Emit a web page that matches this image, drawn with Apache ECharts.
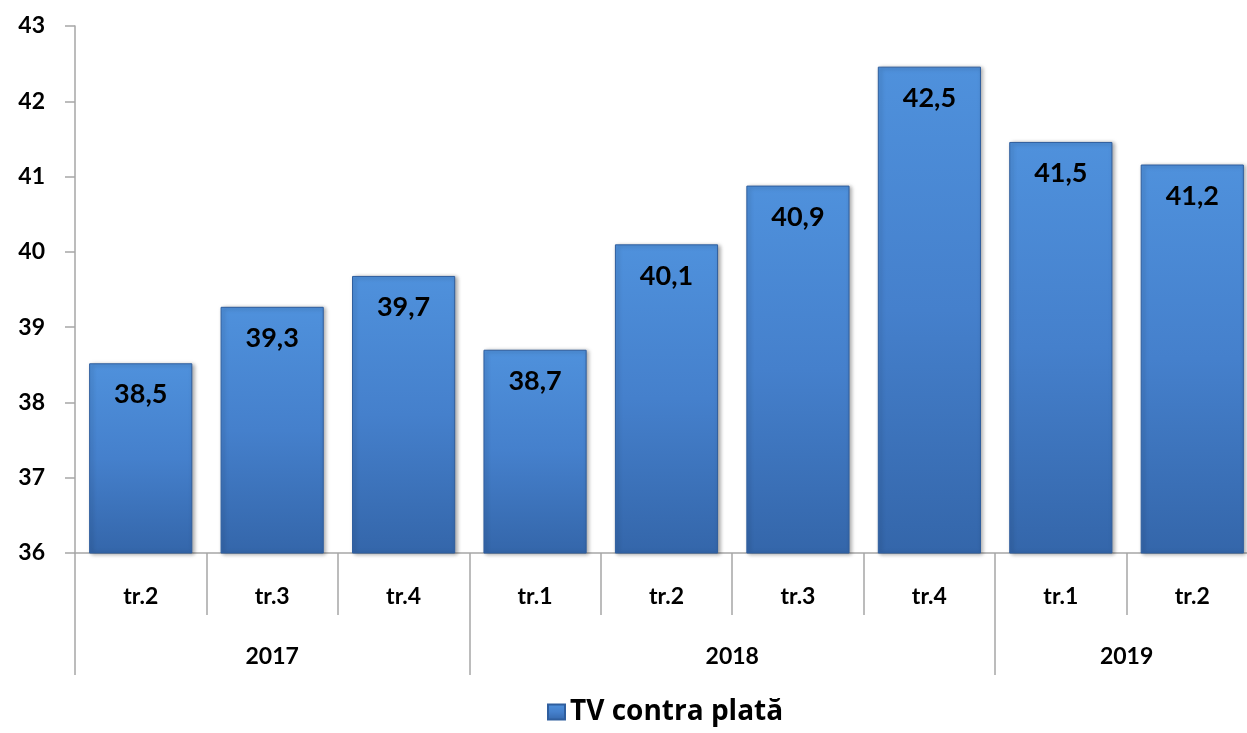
<!DOCTYPE html>
<html>
<head>
<meta charset="utf-8">
<script src="https://cdn.jsdelivr.net/npm/echarts@6/dist/echarts.min.js"></script>
<style>
  html, body { margin: 0; padding: 0; background: #fff; }
  #chart { width: 1247px; height: 733px; }
</style>
</head>
<body>
<div id="chart"></div>
<script>
// date
var quarters = ['tr.2', 'tr.3', 'tr.4', 'tr.1', 'tr.2', 'tr.3', 'tr.4', 'tr.1', 'tr.2'];
var values = [38.52, 39.27, 39.68, 38.70, 40.10, 40.88, 42.46, 41.46, 41.16];
var years = ['2017', '2018', '2019'];
var yearSpans = [3, 4, 2];
var seriesName = 'TV contra plată';

// limitele si centrele grupelor de ani (in unitati de categorie)
var yearBounds = [0];
var yearCenters = [];
yearSpans.forEach(function (n, i) {
    yearCenters.push(yearBounds[i] + n / 2);
    yearBounds.push(yearBounds[i] + n);
});

var font = 'Lato, "Open Sans", sans-serif';
var axisGray = '#a6a6a6';

var barColor = new echarts.graphic.LinearGradient(0, 0, 0, 1, [
    { offset: 0, color: '#4f91dc' },
    { offset: 0.5, color: '#4580cc' },
    { offset: 1, color: '#3466aa' }
]);

var myChart = echarts.init(document.getElementById('chart'));

var option = {
    animation: false,
    textStyle: { fontFamily: font },
    // zona graficului iese putin din dreapta, ca in original
    grid: { left: 75, right: -11, top: 26, bottom: 180, containLabel: false, outerBoundsMode: 'none' },
    legend: {
        data: [seriesName],
        bottom: 2,
        left: 542,
        itemWidth: 17,
        itemHeight: 15,
        itemGap: 6,
        icon: 'rect',
        textStyle: { fontSize: 28, fontWeight: 'bold', color: '#000', fontFamily: '"Open Sans", sans-serif' }
    },
    xAxis: [{
        type: 'category',
        data: quarters,
        position: 'bottom',
        axisLine: { lineStyle: { color: axisGray, width: 1.5 } },
        axisTick: { show: true, interval: 0, length: 62, lineStyle: { color: axisGray, width: 1.5 } },
        axisLabel: { interval: 0, margin: 32, fontSize: 23, fontWeight: 'bold', color: '#000' }
    }, {
        type: 'value',
        position: 'bottom',
        min: 0,
        max: yearBounds[yearBounds.length - 1],
        axisLine: { show: false },
        splitLine: { show: false },
        axisTick: { show: true, length: 122, customValues: yearBounds, lineStyle: { color: axisGray, width: 1.5 } },
        axisLabel: {
            margin: 92,
            fontSize: 23,
            fontWeight: 'bold',
            color: '#000',
            customValues: yearCenters,
            formatter: function (v) {
                var i = yearCenters.indexOf(v);
                return i >= 0 ? years[i] : '';
            }
        }
    }],
    yAxis: {
        type: 'value',
        min: 36,
        max: 43,
        interval: 1,
        axisLine: { show: true, lineStyle: { color: axisGray, width: 1.5 } },
        axisTick: { show: true, length: 10, lineStyle: { color: axisGray, width: 1.5 } },
        splitLine: { show: false },
        axisLabel: { margin: 30, fontSize: 23, fontWeight: 'bold', color: '#000' }
    },
    series: [{
        name: seriesName,
        type: 'bar',
        xAxisIndex: 0,
        data: values,
        barCategoryGap: '21.5%',
        itemStyle: {
            color: barColor,
            borderColor: '#2f5e9e',
            borderWidth: 1,
            shadowColor: 'rgba(0,0,0,0.35)',
            shadowBlur: 4,
            shadowOffsetX: 2,
            shadowOffsetY: 1
        },
        label: {
            show: true,
            position: 'insideTop',
            distance: 18,
            fontSize: 27,
            fontWeight: 'bold',
            color: '#000',
            formatter: function (p) { return (Math.round(p.value * 10) / 10).toFixed(1).replace('.', ','); }
        }
    }]
};
myChart.setOption(option);
</script>
</body>
</html>
